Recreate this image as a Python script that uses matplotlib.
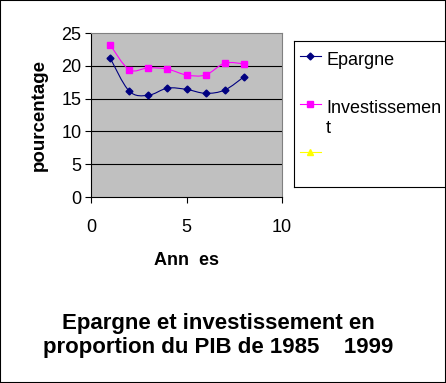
import matplotlib
matplotlib.use("Agg")
import matplotlib.pyplot as plt
from matplotlib.path import Path
from matplotlib.patches import PathPatch, Rectangle
from matplotlib.lines import Line2D
import numpy as np

plt.rcParams['font.family'] = ['Liberation Sans', 'DejaVu Sans']

# data
annees = [1, 2, 3, 4, 5, 6, 7, 8]
epargne = [21.2, 16.15, 15.5, 16.6, 16.4, 15.8, 16.3, 18.3]
investissement = [23.2, 19.4, 19.7, 19.5, 18.6, 18.6, 20.4, 20.3]
labels = ["Epargne", "Investissemen\nt", ""]
yticks = [0, 5, 10, 15, 20, 25]
xticks = [0, 5, 10]

W, H = 446, 383


#smoothed path like the excel "smooth line" option
def smooth_path(xs, ys):
    p = np.column_stack([xs, ys]).astype(float)
    verts = [p[0]]
    codes = [Path.MOVETO]
    n = len(p)
    for i in range(n - 1):
        p0 = p[i - 1] if i > 0 else p[i]
        p3 = p[i + 2] if i + 2 < n else p[i + 1]
        c1 = p[i] + (p[i + 1] - p0) / 6.0
        c2 = p[i + 1] - (p3 - p[i]) / 6.0
        verts += [c1, c2, p[i + 1]]
        codes += [Path.CURVE4] * 3
    return Path(verts, codes)


fig = plt.figure(figsize=(W / 100, H / 100), dpi=100)
fig.patch.set_facecolor("white")

ax = fig.add_axes([91 / W, 1 - 197 / H, (282 - 91) / W, (197 - 33) / H])
ax.set_facecolor("#C0C0C0")
ax.set_xlim(0, 10)
ax.set_ylim(0, 25)
ax.set_xticks(xticks)
ax.set_yticks(yticks)
ax.tick_params(axis="both", direction="out", length=4.3, width=0.8, labelsize=13)
ax.tick_params(axis="x", pad=11.5)
ax.tick_params(axis="y", pad=2.5)
for y in yticks[1:-1]:
    ax.axhline(y, color="black", lw=0.8, zorder=1)
for side in ["left", "bottom"]:
    ax.spines[side].set_color("black")
    ax.spines[side].set_linewidth(0.8)
for side in ["top", "right"]:
    ax.spines[side].set_color("#808080")
    ax.spines[side].set_linewidth(0.8)

ax.add_patch(PathPatch(smooth_path(annees, epargne), fill=False, edgecolor="#000080", lw=0.8, zorder=3))
ax.plot(annees, epargne, ls="none", marker="D", ms=3.5, color="#000080", zorder=4)
ax.add_patch(PathPatch(smooth_path(annees, investissement), fill=False, edgecolor="#FF00FF", lw=0.8, zorder=3))
ax.plot(annees, investissement, ls="none", marker="s", ms=4.5, color="#FF00FF", zorder=4)

ax.set_ylabel("pourcentage", fontsize=13.5, fontweight="bold", labelpad=10)
fig.text(186 / W, 1 - 265 / H, "Ann  es", fontsize=13, fontweight="bold", ha="center", va="baseline")
fig.text(218.5 / W, 1 - 329.5 / H, "Epargne et investissement en",
         fontsize=16, fontweight="bold", ha="center", va="baseline")
fig.text(218.5 / W, 1 - 353.5 / H, "proportion du PIB de 1985    1999",
         fontsize=16, fontweight="bold", ha="center", va="baseline")

#legend box drawn by hand, it goes past the right edge
lg = fig.add_axes([294 / W, 1 - 186.5 / H, 200 / W, (186.5 - 41) / H])
lg.set_xlim(0, 200)
lg.set_ylim(145.5, 0)
lg.set_xticks([])
lg.set_yticks([])
lg.patch.set_facecolor("white")
for s in lg.spines.values():
    s.set_color("black")
    s.set_linewidth(0.8)
handle_y = [15, 63.3, 111.3]
cols = ["#000080", "#FF00FF", "#FFFF00"]
marks = ["D", "s", "^"]
sizes = [3.5, 4.5, 4.5]
for y, c, m, ms, lab in zip(handle_y, cols, marks, sizes, labels):
    lg.add_line(Line2D([6, 27], [y, y], color=c, lw=0.8))
    lg.plot([16], [y], marker=m, ms=ms, color=c)
    for k, part in enumerate(lab.split("\n")):
        if part:
            lg.text(32, y + 9 + 20 * k, part, fontsize=13, va="baseline")

fig.add_artist(Rectangle((0, 0), 1, 1, transform=fig.transFigure, fill=False,
                         edgecolor="black", lw=1.5, clip_on=False))

fig.savefig("out.png", dpi=100)
